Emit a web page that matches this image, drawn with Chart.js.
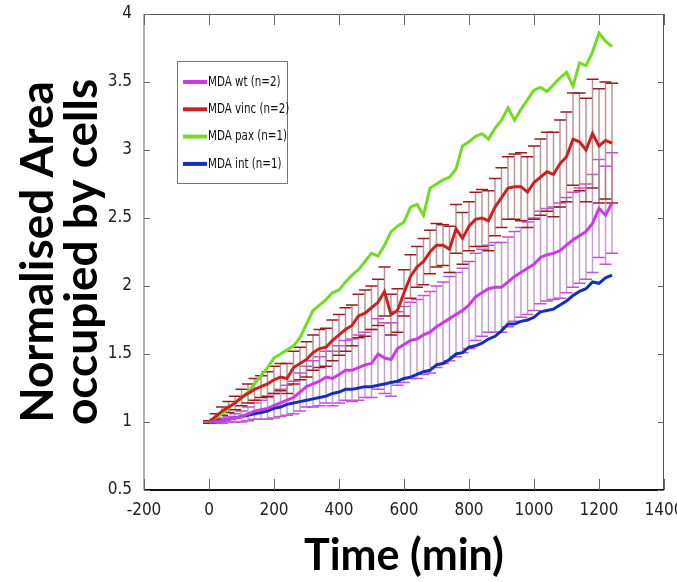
<!DOCTYPE html>
<html>
<head>
<meta charset="utf-8">
<script src="https://cdn.jsdelivr.net/npm/chart.js@4/dist/chart.umd.min.js"></script>
<style>
  html, body { margin: 0; padding: 0; background: #fff; }
  #wrap { width: 677px; height: 582px; }
</style>
</head>
<body>
<div id="wrap"><canvas id="area"></canvas></div>
<script>
// time points (min)
const times = [0, 20, 40, 60, 80, 100, 120, 140, 160, 180, 200, 220, 240, 260, 280, 300,
  320, 340, 360, 380, 400, 420, 440, 460, 480, 500, 520, 540, 560, 580, 600, 620,
  640, 660, 680, 700, 720, 740, 760, 780, 800, 820, 840, 860, 880, 900, 920, 940,
  960, 980, 1000, 1020, 1040, 1060, 1080, 1100, 1120, 1140, 1160, 1180, 1200, 1220, 1240];

const wt = [1.00, 1.00, 1.01, 1.02, 1.03, 1.04, 1.06, 1.08, 1.09, 1.10, 1.12, 1.14, 1.16, 1.18, 1.22, 1.26,
  1.28, 1.30, 1.33, 1.32, 1.35, 1.38, 1.38, 1.40, 1.42, 1.43, 1.50, 1.47, 1.46, 1.54, 1.57, 1.60,
  1.61, 1.64, 1.66, 1.70, 1.73, 1.76, 1.79, 1.82, 1.86, 1.92, 1.95, 1.98, 1.99, 1.99, 2.03, 2.07,
  2.10, 2.13, 2.16, 2.21, 2.23, 2.24, 2.26, 2.30, 2.34, 2.37, 2.40, 2.46, 2.57, 2.52, 2.61];
const wtErr = [0.01, 0.01, 0.02, 0.02, 0.03, 0.04, 0.05, 0.06, 0.07, 0.08, 0.09, 0.10, 0.11, 0.12, 0.14, 0.15,
  0.17, 0.18, 0.19, 0.20, 0.21, 0.22, 0.23, 0.24, 0.24, 0.25, 0.26, 0.26, 0.27, 0.27, 0.28, 0.28,
  0.29, 0.29, 0.30, 0.30, 0.30, 0.31, 0.31, 0.31, 0.32, 0.32, 0.32, 0.32, 0.33, 0.33, 0.33, 0.33,
  0.33, 0.34, 0.34, 0.34, 0.34, 0.34, 0.35, 0.35, 0.35, 0.35, 0.35, 0.36, 0.36, 0.36, 0.37];

const vinc = [1.00, 1.04, 1.08, 1.11, 1.14, 1.18, 1.21, 1.24, 1.26, 1.28, 1.31, 1.33, 1.32, 1.40, 1.43, 1.46,
  1.51, 1.54, 1.55, 1.60, 1.64, 1.68, 1.71, 1.78, 1.80, 1.84, 1.88, 1.96, 1.79, 1.82, 1.95, 2.07,
  2.14, 2.18, 2.25, 2.30, 2.30, 2.27, 2.42, 2.35, 2.44, 2.49, 2.50, 2.48, 2.58, 2.65, 2.72, 2.73,
  2.73, 2.69, 2.76, 2.80, 2.84, 2.82, 2.90, 2.95, 3.08, 3.06, 3.00, 3.12, 3.03, 3.07, 3.05];
const vincErr = [0.01, 0.02, 0.03, 0.04, 0.05, 0.06, 0.07, 0.08, 0.08, 0.09, 0.10, 0.10, 0.11, 0.12, 0.12, 0.13,
  0.13, 0.14, 0.14, 0.15, 0.15, 0.16, 0.15, 0.16, 0.17, 0.16, 0.17, 0.18, 0.15, 0.16, 0.17, 0.16,
  0.15, 0.17, 0.16, 0.16, 0.15, 0.17, 0.18, 0.19, 0.18, 0.20, 0.21, 0.22, 0.21, 0.22, 0.23, 0.24,
  0.25, 0.26, 0.27, 0.28, 0.29, 0.31, 0.32, 0.33, 0.34, 0.36, 0.38, 0.40, 0.42, 0.43, 0.44];

const pax = [1.00, 1.03, 1.06, 1.10, 1.14, 1.18, 1.22, 1.28, 1.34, 1.40, 1.47, 1.50, 1.53, 1.56, 1.62, 1.72,
  1.82, 1.86, 1.90, 1.95, 1.97, 2.03, 2.08, 2.12, 2.18, 2.24, 2.22, 2.30, 2.40, 2.44, 2.47, 2.58,
  2.60, 2.52, 2.72, 2.75, 2.78, 2.80, 2.86, 3.03, 3.06, 3.10, 3.12, 3.08, 3.16, 3.22, 3.31, 3.22,
  3.30, 3.37, 3.44, 3.46, 3.43, 3.48, 3.53, 3.57, 3.47, 3.64, 3.62, 3.72, 3.86, 3.80, 3.76];

const intg = [1.00, 1.00, 1.01, 1.02, 1.03, 1.04, 1.05, 1.06, 1.07, 1.08, 1.10, 1.11, 1.13, 1.14, 1.15, 1.16,
  1.17, 1.18, 1.19, 1.21, 1.22, 1.24, 1.24, 1.25, 1.26, 1.26, 1.27, 1.28, 1.29, 1.30, 1.32, 1.33,
  1.35, 1.37, 1.38, 1.42, 1.43, 1.46, 1.50, 1.51, 1.55, 1.56, 1.58, 1.61, 1.63, 1.67, 1.72, 1.72,
  1.74, 1.75, 1.77, 1.81, 1.82, 1.83, 1.86, 1.89, 1.93, 1.96, 1.98, 2.03, 2.02, 2.06, 2.08];

const xTicks = [-200, 0, 200, 400, 600, 800, 1000, 1200, 1400];
const yTicks = [0.5, 1, 1.5, 2, 2.5, 3, 3.5, 4];

const tickFont = "'Liberation Sans Narrow', 'DejaVu Sans Condensed', 'Liberation Sans', Arial, sans-serif";
const titleFont = "Lato, 'Open Sans', sans-serif";

function pts(vals) {
  return times.map((t, i) => ({ x: t, y: vals[i] }));
}

// vertical error bars with caps, drawn under the lines
const errorBars = {
  id: 'errorBars',
  beforeDatasetsDraw(chart) {
    const ctx = chart.ctx;
    const xs = chart.scales.x, ys = chart.scales.y;
    ctx.save();
    chart.data.datasets.forEach(ds => {
      if (!ds.err) return;
      ds.data.forEach((p, i) => {
        const px = xs.getPixelForValue(p.x);
        const top = ys.getPixelForValue(p.y + ds.err[i]);
        const bot = ys.getPixelForValue(p.y - ds.err[i]);
        ctx.strokeStyle = ds.barColor;
        ctx.lineWidth = 1.5;
        ctx.beginPath();
        ctx.moveTo(px, top);
        ctx.lineTo(px, bot);
        ctx.stroke();
        ctx.strokeStyle = ds.capColor;
        ctx.lineWidth = 1.5;
        ctx.beginPath();
        ctx.moveTo(px - 6, top); ctx.lineTo(px + 6, top);
        ctx.moveTo(px - 6, bot); ctx.lineTo(px + 6, bot);
        ctx.stroke();
      });
    });
    ctx.restore();
  }
};

// matlab style box with inward ticks, plus the legend box
const frame = {
  id: 'frame',
  afterDraw(chart) {
    const ctx = chart.ctx;
    const a = chart.chartArea;
    const xs = chart.scales.x, ys = chart.scales.y;
    ctx.save();
    ctx.lineWidth = 1;
    ctx.strokeStyle = '#555';
    ctx.beginPath();
    ctx.moveTo(a.left, a.top + 0.5); ctx.lineTo(a.right, a.top + 0.5);
    ctx.moveTo(a.right - 0.5, a.top); ctx.lineTo(a.right - 0.5, a.bottom);
    ctx.stroke();
    ctx.strokeStyle = '#999';
    ctx.lineWidth = 1.5;
    ctx.beginPath();
    ctx.moveTo(a.left, a.top); ctx.lineTo(a.left, a.bottom);
    ctx.stroke();
    ctx.strokeStyle = '#111';
    ctx.lineWidth = 2;
    ctx.beginPath();
    ctx.moveTo(a.left, a.bottom); ctx.lineTo(a.right, a.bottom);
    ctx.stroke();

    ctx.lineWidth = 1;
    ctx.strokeStyle = '#666';
    ctx.beginPath();
    xTicks.forEach(v => {
      const px = Math.round(xs.getPixelForValue(v)) + 0.5;
      ctx.moveTo(px, a.bottom); ctx.lineTo(px, a.bottom - 11);
      ctx.moveTo(px, a.top); ctx.lineTo(px, a.top + 11);
    });
    yTicks.forEach(v => {
      const py = Math.round(ys.getPixelForValue(v)) + 0.5;
      ctx.moveTo(a.left, py); ctx.lineTo(a.left + 6, py);
      ctx.moveTo(a.right, py); ctx.lineTo(a.right - 6, py);
    });
    ctx.stroke();

    // legend
    const lx = 177, ly = 61, lw = 110, lh = 122;
    ctx.fillStyle = '#fff';
    ctx.fillRect(lx, ly, lw, lh);
    ctx.strokeStyle = '#777';
    ctx.lineWidth = 1;
    ctx.strokeRect(lx + 0.5, ly + 0.5, lw, lh);
    ctx.font = '14px ' + tickFont;
    ctx.textBaseline = 'middle';
    ctx.textAlign = 'left';
    chart.data.datasets.forEach((ds, i) => {
      const yy = ly + 21 + i * 27.3;
      ctx.strokeStyle = ds.borderColor;
      ctx.lineWidth = 4;
      ctx.beginPath();
      ctx.moveTo(lx + 6, yy); ctx.lineTo(lx + 30, yy);
      ctx.stroke();
      ctx.fillStyle = '#111';
      ctx.save();
      ctx.translate(lx + 31, yy);
      ctx.scale(0.82, 1);
      ctx.fillText(ds.label, 0, 0);
      ctx.restore();
    });
    ctx.restore();
  }
};

const ctx = document.getElementById('area').getContext('2d');
const areaChart = new Chart(ctx, {
  type: 'line',
  data: {
    datasets: [
      { label: 'MDA wt (n=2)', data: pts(wt), err: wtErr, borderColor: '#cc3ae6',
        barColor: 'rgba(185, 140, 205, 0.85)', capColor: '#c44fd8' },
      { label: 'MDA vinc (n=2)', data: pts(vinc), err: vincErr, borderColor: '#c82323',
        barColor: 'rgba(175, 120, 120, 0.8)', capColor: '#9b1c1c' },
      { label: 'MDA pax (n=1)', data: pts(pax), borderColor: '#72dc22' },
      { label: 'MDA int (n=1)', data: pts(intg), borderColor: '#1430b8' }
    ]
  },
  options: {
    responsive: true,
    maintainAspectRatio: false,
    animation: false,
    layout: { padding: { top: 14, right: 13, left: 0, bottom: 0 } },
    elements: {
      line: { borderWidth: 3, tension: 0 },
      point: { radius: 0 }
    },
    plugins: {
      legend: { display: false },
      tooltip: { enabled: false }
    },
    scales: {
      x: {
        type: 'linear',
        min: -200,
        max: 1400,
        grid: { display: false },
        border: { display: false },
        afterBuildTicks: s => { s.ticks = xTicks.map(v => ({ value: v })); },
        afterFit: s => { s.height = 92; s.paddingLeft = 0; s.paddingRight = 0; },
        ticks: { color: '#222', padding: 2, maxRotation: 0, callback: v => String(v),
          font: { family: tickFont, size: 17 } },
        title: {
          display: true,
          text: 'Time (min)',
          color: '#000',
          padding: { top: 0, bottom: 0 },
          font: { family: titleFont, size: 43, weight: 'bold' }
        }
      },
      y: {
        min: 0.5,
        max: 4,
        grid: { display: false },
        border: { display: false },
        afterBuildTicks: s => { s.ticks = yTicks.map(v => ({ value: v })); },
        afterFit: s => { s.width = 144; s.paddingTop = 0; s.paddingBottom = 0; },
        ticks: { color: '#222', padding: 4, callback: v => String(v),
          font: { family: tickFont, size: 17 } },
        title: {
          display: true,
          text: ['Normalised Area', 'occupied by cells'],
          color: '#000',
          padding: { top: 17 },
          font: { family: titleFont, size: 46, weight: 'bold', lineHeight: 0.94 }
        }
      }
    }
  },
  plugins: [errorBars, frame]
});
</script>
</body>
</html>
